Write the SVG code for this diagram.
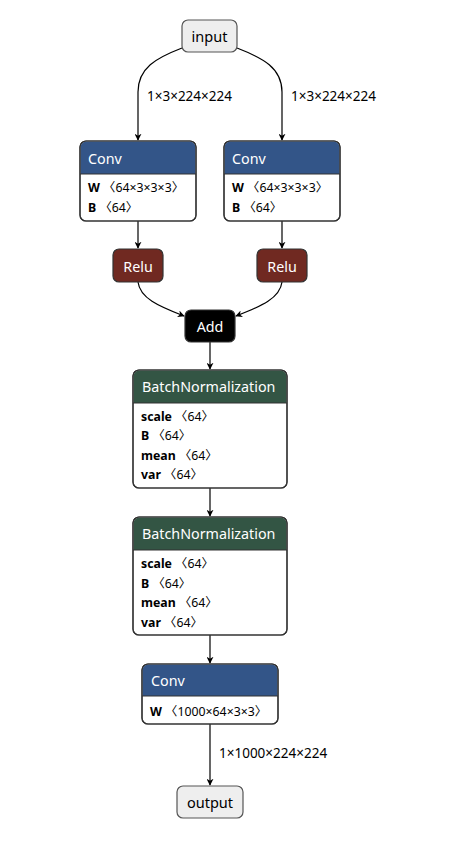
<svg xmlns="http://www.w3.org/2000/svg" width="456" height="847" viewBox="0 0 456 847">
  <style>
    text { font-family: "Noto Sans", "Open Sans", "Noto Sans CJK SC", sans-serif; }
    .io rect { fill: #eeeeee; stroke: #555555; stroke-width: 1.2; }
    .io text { font-size: 14.5px; fill: #000; text-anchor: middle; }
    .box { fill: #ffffff; stroke: #333333; stroke-width: 1.2; }
    .title { font-size: 14.3px; fill: #ffffff; }
    .ctitle { font-size: 14.3px; fill: #ffffff; text-anchor: middle; }
    .attr { font-size: 12.3px; fill: #000; }
    .attr tspan.k { font-weight: bold; }
    .attr tspan.b { font-family: "Noto Sans CJK SC", sans-serif; }
    .layer { fill: #335588; }
    .norm { fill: #335544; }
    .act { fill: #702921; stroke: #333333; stroke-width: 1.2; }
    .dflt { fill: #000000; stroke: #333333; stroke-width: 1.2; }
    .edges path { fill: none; stroke: #000; stroke-width: 1.2; marker-end: url(#arrow); }
    .elabel { font-size: 13.5px; fill: #000; }
  </style>
  <defs>
    <marker id="arrow" viewBox="0 0 10 10" refX="9" refY="5" markerWidth="7" markerHeight="7" markerUnits="userSpaceOnUse" orient="auto">
      <path d="M0,0 L10,5 L0,10 L3,5 z" fill="#000"/>
    </marker>
  </defs>

  <g class="edges">
    <path d="M182,48 C156,58 138,68 138,92 L138,140"/>
    <path d="M237,48 C263,58 282,68 282,92 L282,140"/>
    <path d="M138,221 L138,248"/>
    <path d="M282,221 L282,248"/>
    <path d="M138,282 C140,298 158,306 184,316"/>
    <path d="M282,282 C280,298 262,306 236,316"/>
    <path d="M210,342 L210,369"/>
    <path d="M210,488 L210,516"/>
    <path d="M210,635 L210,663"/>
    <path d="M210,724 L210,785"/>
  </g>
  <g class="edge-labels">
    <text class="elabel" x="147" y="101">1×3×224×224</text>
    <text class="elabel" x="291" y="101">1×3×224×224</text>
    <text class="elabel" x="219" y="758">1×1000×224×224</text>
  </g>

  <g id="input" class="io">
    <rect x="182" y="20" width="55" height="32" rx="6"/>
    <text x="209.5" y="42">input</text>
  </g>

  <g id="conv_a">
    <rect class="box" x="80" y="141" width="116" height="80" rx="6"/>
    <path class="layer" d="M80.6,174 V147 a5.4,5.4 0 0 1 5.4,-5.4 H190 a5.4,5.4 0 0 1 5.4,5.4 V174 z"/>
    <rect x="80" y="141" width="116" height="80" rx="6" fill="none" stroke="#333" stroke-width="1.2"/>
    <line x1="80" y1="174" x2="196" y2="174" stroke="#333" stroke-width="1"/>
    <text class="title" x="88" y="164">Conv</text>
    <text class="attr" x="88" y="192"><tspan class="k">W</tspan> <tspan class="b">〈</tspan>64×3×3×3<tspan class="b">〉</tspan></text>
    <text class="attr" x="88" y="212"><tspan class="k">B</tspan> <tspan class="b">〈</tspan>64<tspan class="b">〉</tspan></text>
  </g>

  <g id="conv_b">
    <rect class="box" x="224" y="141" width="116" height="80" rx="6"/>
    <path class="layer" d="M224.6,174 V147 a5.4,5.4 0 0 1 5.4,-5.4 H334 a5.4,5.4 0 0 1 5.4,5.4 V174 z"/>
    <rect x="224" y="141" width="116" height="80" rx="6" fill="none" stroke="#333" stroke-width="1.2"/>
    <line x1="224" y1="174" x2="340" y2="174" stroke="#333" stroke-width="1"/>
    <text class="title" x="232" y="164">Conv</text>
    <text class="attr" x="232" y="192"><tspan class="k">W</tspan> <tspan class="b">〈</tspan>64×3×3×3<tspan class="b">〉</tspan></text>
    <text class="attr" x="232" y="212"><tspan class="k">B</tspan> <tspan class="b">〈</tspan>64<tspan class="b">〉</tspan></text>
  </g>

  <g id="relu_a">
    <rect class="act" x="113" y="249" width="50" height="33" rx="6"/>
    <text class="ctitle" x="138" y="272">Relu</text>
  </g>

  <g id="relu_b">
    <rect class="act" x="257" y="249" width="50" height="33" rx="6"/>
    <text class="ctitle" x="282" y="272">Relu</text>
  </g>

  <g id="add">
    <rect class="dflt" x="185" y="310" width="50" height="32" rx="6"/>
    <text class="ctitle" x="210" y="332">Add</text>
  </g>

  <g id="bn_a">
    <rect class="box" x="133" y="370" width="154" height="118" rx="6"/>
    <path class="norm" d="M133.6,403 V376 a5.4,5.4 0 0 1 5.4,-5.4 H281 a5.4,5.4 0 0 1 5.4,5.4 V403 z"/>
    <rect x="133" y="370" width="154" height="118" rx="6" fill="none" stroke="#333" stroke-width="1.2"/>
    <line x1="133" y1="403" x2="287" y2="403" stroke="#333" stroke-width="1"/>
    <text class="title" x="142" y="392">BatchNormalization</text>
    <text class="attr" x="141" y="421"><tspan class="k">scale</tspan> <tspan class="b">〈</tspan>64<tspan class="b">〉</tspan></text>
    <text class="attr" x="141" y="440"><tspan class="k">B</tspan> <tspan class="b">〈</tspan>64<tspan class="b">〉</tspan></text>
    <text class="attr" x="141" y="460"><tspan class="k">mean</tspan> <tspan class="b">〈</tspan>64<tspan class="b">〉</tspan></text>
    <text class="attr" x="141" y="479"><tspan class="k">var</tspan> <tspan class="b">〈</tspan>64<tspan class="b">〉</tspan></text>
  </g>

  <g id="bn_b">
    <rect class="box" x="133" y="517" width="154" height="118" rx="6"/>
    <path class="norm" d="M133.6,550 V523 a5.4,5.4 0 0 1 5.4,-5.4 H281 a5.4,5.4 0 0 1 5.4,5.4 V550 z"/>
    <rect x="133" y="517" width="154" height="118" rx="6" fill="none" stroke="#333" stroke-width="1.2"/>
    <line x1="133" y1="550" x2="287" y2="550" stroke="#333" stroke-width="1"/>
    <text class="title" x="142" y="539">BatchNormalization</text>
    <text class="attr" x="141" y="568"><tspan class="k">scale</tspan> <tspan class="b">〈</tspan>64<tspan class="b">〉</tspan></text>
    <text class="attr" x="141" y="588"><tspan class="k">B</tspan> <tspan class="b">〈</tspan>64<tspan class="b">〉</tspan></text>
    <text class="attr" x="141" y="607"><tspan class="k">mean</tspan> <tspan class="b">〈</tspan>64<tspan class="b">〉</tspan></text>
    <text class="attr" x="141" y="627"><tspan class="k">var</tspan> <tspan class="b">〈</tspan>64<tspan class="b">〉</tspan></text>
  </g>

  <g id="conv_c">
    <rect class="box" x="142" y="664" width="136" height="60" rx="6"/>
    <path class="layer" d="M142.6,696 V670 a5.4,5.4 0 0 1 5.4,-5.4 H272 a5.4,5.4 0 0 1 5.4,5.4 V696 z"/>
    <rect x="142" y="664" width="136" height="60" rx="6" fill="none" stroke="#333" stroke-width="1.2"/>
    <line x1="142" y1="696" x2="278" y2="696" stroke="#333" stroke-width="1"/>
    <text class="title" x="151" y="686">Conv</text>
    <text class="attr" x="150" y="716"><tspan class="k">W</tspan> <tspan class="b">〈</tspan>1000×64×3×3<tspan class="b">〉</tspan></text>
  </g>

  <g id="output" class="io">
    <rect x="177" y="786" width="66" height="32" rx="6"/>
    <text x="210" y="808">output</text>
  </g>
</svg>
